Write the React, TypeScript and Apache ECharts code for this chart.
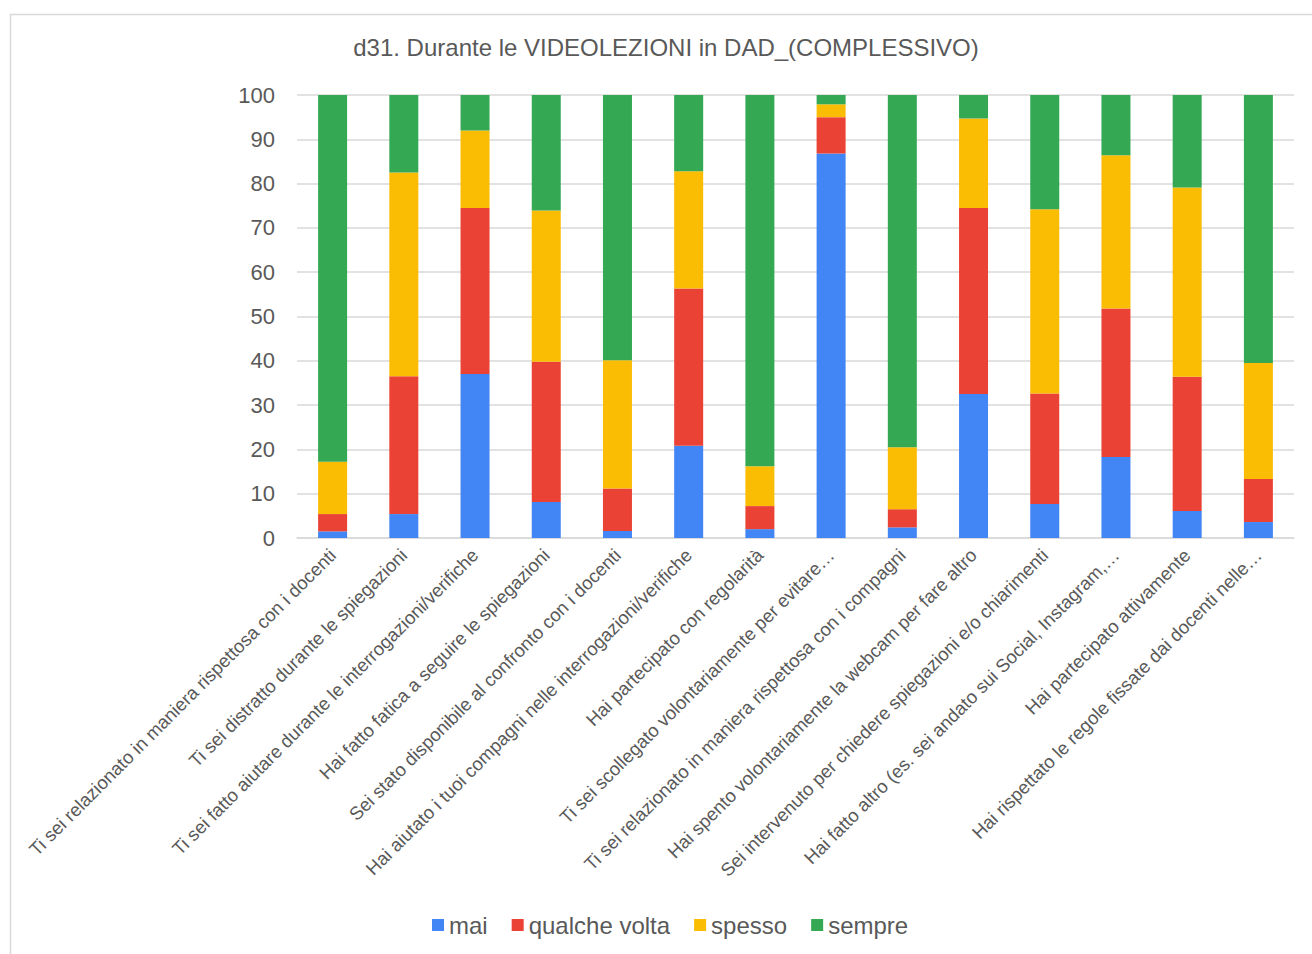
import React, { useEffect, useRef } from "react";
import * as echarts from "echarts";

const categories = [
  "Ti sei relazionato in maniera rispettosa con i docenti",
  "Ti sei distratto durante le spiegazioni",
  "Ti sei fatto aiutare durante le interrogazioni/verifiche",
  "Hai fatto fatica a seguire le spiegazioni",
  "Sei stato disponibile al confronto con i docenti",
  "Hai aiutato i tuoi compagni nelle interrogazioni/verifiche",
  "Hai partecipato con regolarità",
  "Ti sei scollegato volontariamente per evitare…",
  "Ti sei relazionato in maniera rispettosa con i compagni",
  "Hai spento volontariamente la webcam per fare altro",
  "Sei intervenuto per chiedere spiegazioni e/o chiarimenti",
  "Hai fatto altro (es. sei andato sui Social, Instagram,…",
  "Hai partecipato attivamente",
  "Hai rispettato le regole fissate dai docenti nelle…",
];

const mai = [1.5, 5.4, 37.0, 8.1, 1.6, 20.8, 2.0, 86.8, 2.4, 32.5, 7.7, 18.3, 6.1, 3.6];
const qualcheVolta = [3.9, 31.1, 37.5, 31.7, 9.6, 35.5, 5.2, 8.2, 4.1, 42.0, 24.9, 33.5, 30.3, 9.7];
const spesso = [11.8, 46.0, 17.5, 34.1, 28.9, 26.5, 9.0, 2.9, 14.0, 20.2, 41.6, 34.6, 42.7, 26.2];
const sempre = [82.8, 17.5, 8.0, 26.1, 59.9, 17.2, 83.8, 2.1, 79.5, 5.3, 25.8, 13.6, 20.9, 60.5];

const seriesNames = ["mai", "qualche volta", "spesso", "sempre"];
const seriesColors = ["#4285F4", "#EA4335", "#FBBC04", "#34A853"];
const seriesData = [mai, qualcheVolta, spesso, sempre];

const titleText = "d31. Durante le VIDEOLEZIONI in DAD_(COMPLESSIVO)";
const FONT = "'Liberation Sans', Arial, sans-serif";
const TEXT_COLOR = "#595959";

export default function App() {
  const ref = useRef<HTMLDivElement>(null);
  useEffect(() => {
    if (!ref.current) return;
    const chart = echarts.init(ref.current, null, { renderer: "svg" });
    chart.setOption({
      animation: false,
      backgroundColor: "#ffffff",
      textStyle: { fontFamily: FONT },
      graphic: [
        {
          type: "rect",
          shape: { x: 10.5, y: 14.5, width: 1320, height: 960 },
          style: { fill: "none", stroke: "#d9d9d9", lineWidth: 1.5 },
          silent: true,
          z: -10,
        },
        {
          type: "text",
          x: 666,
          y: 47,
          style: {
            text: titleText,
            fontFamily: FONT,
            fontSize: 24,
            fill: TEXT_COLOR,
            align: "center",
            verticalAlign: "middle",
          },
          silent: true,
        },
      ],
      legend: {
        bottom: 12,
        left: 427,
        itemWidth: 12,
        itemHeight: 12,
        itemGap: 24,
        icon: "rect",
        textStyle: { fontFamily: FONT, fontSize: 24, color: TEXT_COLOR, padding: [0, 0, 0, 0] },
        data: seriesNames,
      },
      grid: { left: 297, right: 18, top: 95, bottom: 416, containLabel: false },
      xAxis: {
        type: "category",
        data: categories,
        axisLine: { show: true, lineStyle: { color: "#d9d9d9", width: 1.5 } },
        axisTick: { show: false },
        axisLabel: {
          rotate: 45,
          interval: 0,
          fontFamily: FONT,
          fontSize: 18.5,
          color: TEXT_COLOR,
          margin: 14,
        },
      },
      yAxis: {
        type: "value",
        min: 0,
        max: 100,
        interval: 10,
        axisLine: { show: false },
        axisTick: { show: false },
        splitLine: { lineStyle: { color: "#d9d9d9", width: 1.5 } },
        axisLabel: { fontFamily: FONT, fontSize: 22, color: TEXT_COLOR, margin: 22 },
      },
      series: seriesNames.map((name, i) => ({
        name,
        type: "bar",
        stack: "total",
        data: seriesData[i],
        barWidth: 29,
        itemStyle: { color: seriesColors[i] },
      })),
    });
    return () => chart.dispose();
  }, []);
  return (
    <div
      ref={ref}
      style={{ position: "fixed", left: 0, top: 0, width: 1312, height: 954 }}
    />
  );
}
